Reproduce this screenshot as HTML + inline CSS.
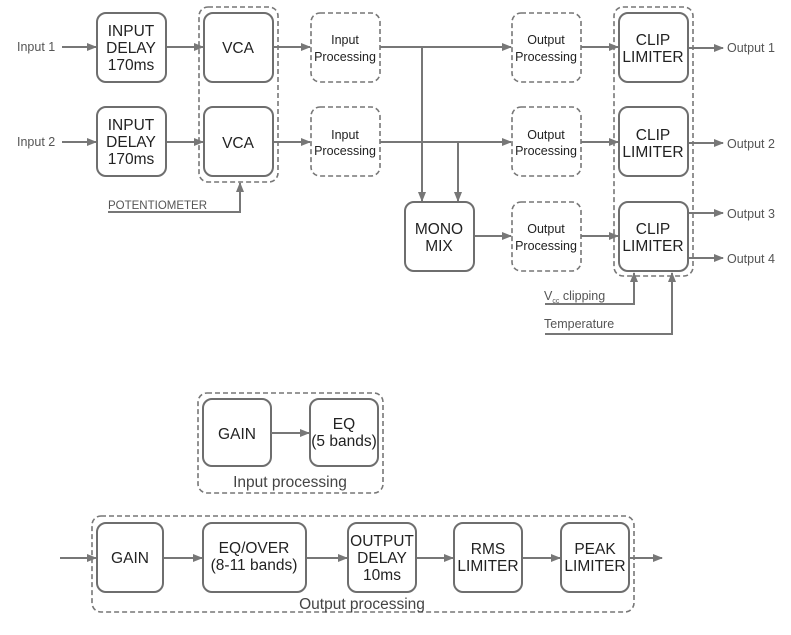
<!DOCTYPE html>
<html><head><meta charset="utf-8"><style>
html,body{margin:0;padding:0;background:#fff}
svg{display:block}
text{font-family:"Liberation Sans","DejaVu Sans",sans-serif;fill:#222}
.b{fill:#fff;stroke:#6e6e6e;stroke-width:2}
.d{fill:none;stroke:#777;stroke-width:1.6;stroke-dasharray:5 3}
.l{stroke:#777;stroke-width:2;fill:none}
.s{fill:#555;font-size:12.5px}
.m{font-size:15.5px;text-anchor:middle}
.p{font-size:12.5px;text-anchor:middle}
</style></head><body>
<svg width="791" height="635" viewBox="0 0 791 635" xmlns="http://www.w3.org/2000/svg">
<defs><marker id="a" markerWidth="10" markerHeight="8" refX="9" refY="4" orient="auto" markerUnits="userSpaceOnUse"><path d="M0,0 L10,4 L0,8z" fill="#777"/></marker></defs>

<!-- connectors top -->
<g class="l">
<line x1="62" y1="47" x2="96" y2="47" marker-end="url(#a)"/>
<line x1="62" y1="142" x2="96" y2="142" marker-end="url(#a)"/>
<line x1="166" y1="47" x2="203" y2="47" marker-end="url(#a)"/>
<line x1="166" y1="142" x2="203" y2="142" marker-end="url(#a)"/>
<line x1="273" y1="47" x2="310" y2="47" marker-end="url(#a)"/>
<line x1="273" y1="142" x2="310" y2="142" marker-end="url(#a)"/>
<line x1="380" y1="47" x2="511" y2="47" marker-end="url(#a)"/>
<line x1="380" y1="142" x2="511" y2="142" marker-end="url(#a)"/>
<line x1="422" y1="47" x2="422" y2="201" marker-end="url(#a)"/>
<line x1="458" y1="142" x2="458" y2="201" marker-end="url(#a)"/>
<line x1="474" y1="236" x2="511" y2="236" marker-end="url(#a)"/>
<line x1="581" y1="47" x2="618" y2="47" marker-end="url(#a)"/>
<line x1="581" y1="142" x2="618" y2="142" marker-end="url(#a)"/>
<line x1="581" y1="236" x2="618" y2="236" marker-end="url(#a)"/>
<line x1="688" y1="48" x2="723" y2="48" marker-end="url(#a)"/>
<line x1="688" y1="143" x2="723" y2="143" marker-end="url(#a)"/>
<line x1="688" y1="213" x2="723" y2="213" marker-end="url(#a)"/>
<line x1="688" y1="258" x2="723" y2="258" marker-end="url(#a)"/>
<polyline points="108,212 240,212 240,183" marker-end="url(#a)"/>
<polyline points="545,304 634,304 634,273" marker-end="url(#a)"/>
<polyline points="545,334 672,334 672,273" marker-end="url(#a)"/>
</g>

<rect class="d" x="199" y="7" width="79" height="175" rx="9"/>
<rect class="d" x="614" y="7" width="79" height="269" rx="9"/>

<rect class="b" x="97" y="13" width="69" height="69" rx="9"/>
<rect class="b" x="97" y="107" width="69" height="69" rx="9"/>
<rect class="b" x="204" y="13" width="69" height="69" rx="9"/>
<rect class="b" x="204" y="107" width="69" height="69" rx="9"/>
<rect class="d" x="311" y="13" width="69" height="69" rx="9"/>
<rect class="d" x="311" y="107" width="69" height="69" rx="9"/>
<rect class="d" x="512" y="13" width="69" height="69" rx="9"/>
<rect class="d" x="512" y="107" width="69" height="69" rx="9"/>
<rect class="d" x="512" y="202" width="69" height="69" rx="9"/>
<rect class="b" x="619" y="13" width="69" height="69" rx="9"/>
<rect class="b" x="619" y="107" width="69" height="69" rx="9"/>
<rect class="b" x="619" y="202" width="69" height="69" rx="9"/>
<rect class="b" x="405" y="202" width="69" height="69" rx="9"/>

<text class="s" x="17" y="51">Input 1</text>
<text class="s" x="17" y="146">Input 2</text>
<text class="m" x="131" y="36">INPUT</text><text class="m" x="131" y="53">DELAY</text><text class="m" x="131" y="70">170ms</text>
<text class="m" x="131" y="130">INPUT</text><text class="m" x="131" y="147">DELAY</text><text class="m" x="131" y="164">170ms</text>
<text class="m" x="238" y="53">VCA</text>
<text class="m" x="238" y="148">VCA</text>
<text class="p" x="345" y="44">Input</text><text class="p" x="345" y="61">Processing</text>
<text class="p" x="345" y="139">Input</text><text class="p" x="345" y="155">Processing</text>
<text class="p" x="546" y="44">Output</text><text class="p" x="546" y="61">Processing</text>
<text class="p" x="546" y="139">Output</text><text class="p" x="546" y="155">Processing</text>
<text class="p" x="546" y="233">Output</text><text class="p" x="546" y="250">Processing</text>
<text class="m" x="653" y="45">CLIP</text><text class="m" x="653" y="62">LIMITER</text>
<text class="m" x="653" y="140">CLIP</text><text class="m" x="653" y="157">LIMITER</text>
<text class="m" x="653" y="234">CLIP</text><text class="m" x="653" y="251">LIMITER</text>
<text class="m" x="439" y="234">MONO</text><text class="m" x="439" y="251">MIX</text>
<text class="s" x="727" y="52">Output 1</text>
<text class="s" x="727" y="148">Output 2</text>
<text class="s" x="727" y="218">Output 3</text>
<text class="s" x="727" y="263">Output 4</text>
<text class="s" x="108" y="209" style="font-size:11.5px">POTENTIOMETER</text>
<text class="s" x="544" y="300">V<tspan font-size="7" dy="3">cc</tspan><tspan dy="-3"> clipping</tspan></text>
<text class="s" x="544" y="328">Temperature</text>

<!-- bottom: input processing -->
<rect class="d" x="198" y="393" width="185" height="100" rx="9"/>
<rect class="b" x="203" y="399" width="68" height="67" rx="9"/>
<rect class="b" x="310" y="399" width="68" height="67" rx="9"/>
<line class="l" x1="271" y1="433" x2="309" y2="433" marker-end="url(#a)"/>
<text class="m" x="237" y="439">GAIN</text>
<text class="m" x="344" y="429">EQ</text><text class="m" x="344" y="446">(5 bands)</text>
<text class="m" x="290" y="487" style="fill:#444">Input processing</text>

<!-- bottom: output processing -->
<rect class="d" x="92" y="516" width="542" height="96" rx="9"/>
<g class="l">
<line x1="60" y1="558" x2="96" y2="558" marker-end="url(#a)"/>
<line x1="163" y1="558" x2="202" y2="558" marker-end="url(#a)"/>
<line x1="306" y1="558" x2="347" y2="558" marker-end="url(#a)"/>
<line x1="416" y1="558" x2="453" y2="558" marker-end="url(#a)"/>
<line x1="522" y1="558" x2="560" y2="558" marker-end="url(#a)"/>
<line x1="629" y1="558" x2="662" y2="558" marker-end="url(#a)"/>
</g>
<rect class="b" x="97" y="523" width="66" height="69" rx="9"/>
<rect class="b" x="203" y="523" width="103" height="69" rx="9"/>
<rect class="b" x="348" y="523" width="68" height="69" rx="9"/>
<rect class="b" x="454" y="523" width="68" height="69" rx="9"/>
<rect class="b" x="561" y="523" width="68" height="69" rx="9"/>
<text class="m" x="130" y="563">GAIN</text>
<text class="m" x="254" y="553">EQ/OVER</text><text class="m" x="254" y="570">(8-11 bands)</text>
<text class="m" x="382" y="546">OUTPUT</text><text class="m" x="382" y="563">DELAY</text><text class="m" x="382" y="580">10ms</text>
<text class="m" x="488" y="554">RMS</text><text class="m" x="488" y="571">LIMITER</text>
<text class="m" x="595" y="554">PEAK</text><text class="m" x="595" y="571">LIMITER</text>
<text class="m" x="362" y="609" style="fill:#444">Output processing</text>
</svg>
</body></html>
